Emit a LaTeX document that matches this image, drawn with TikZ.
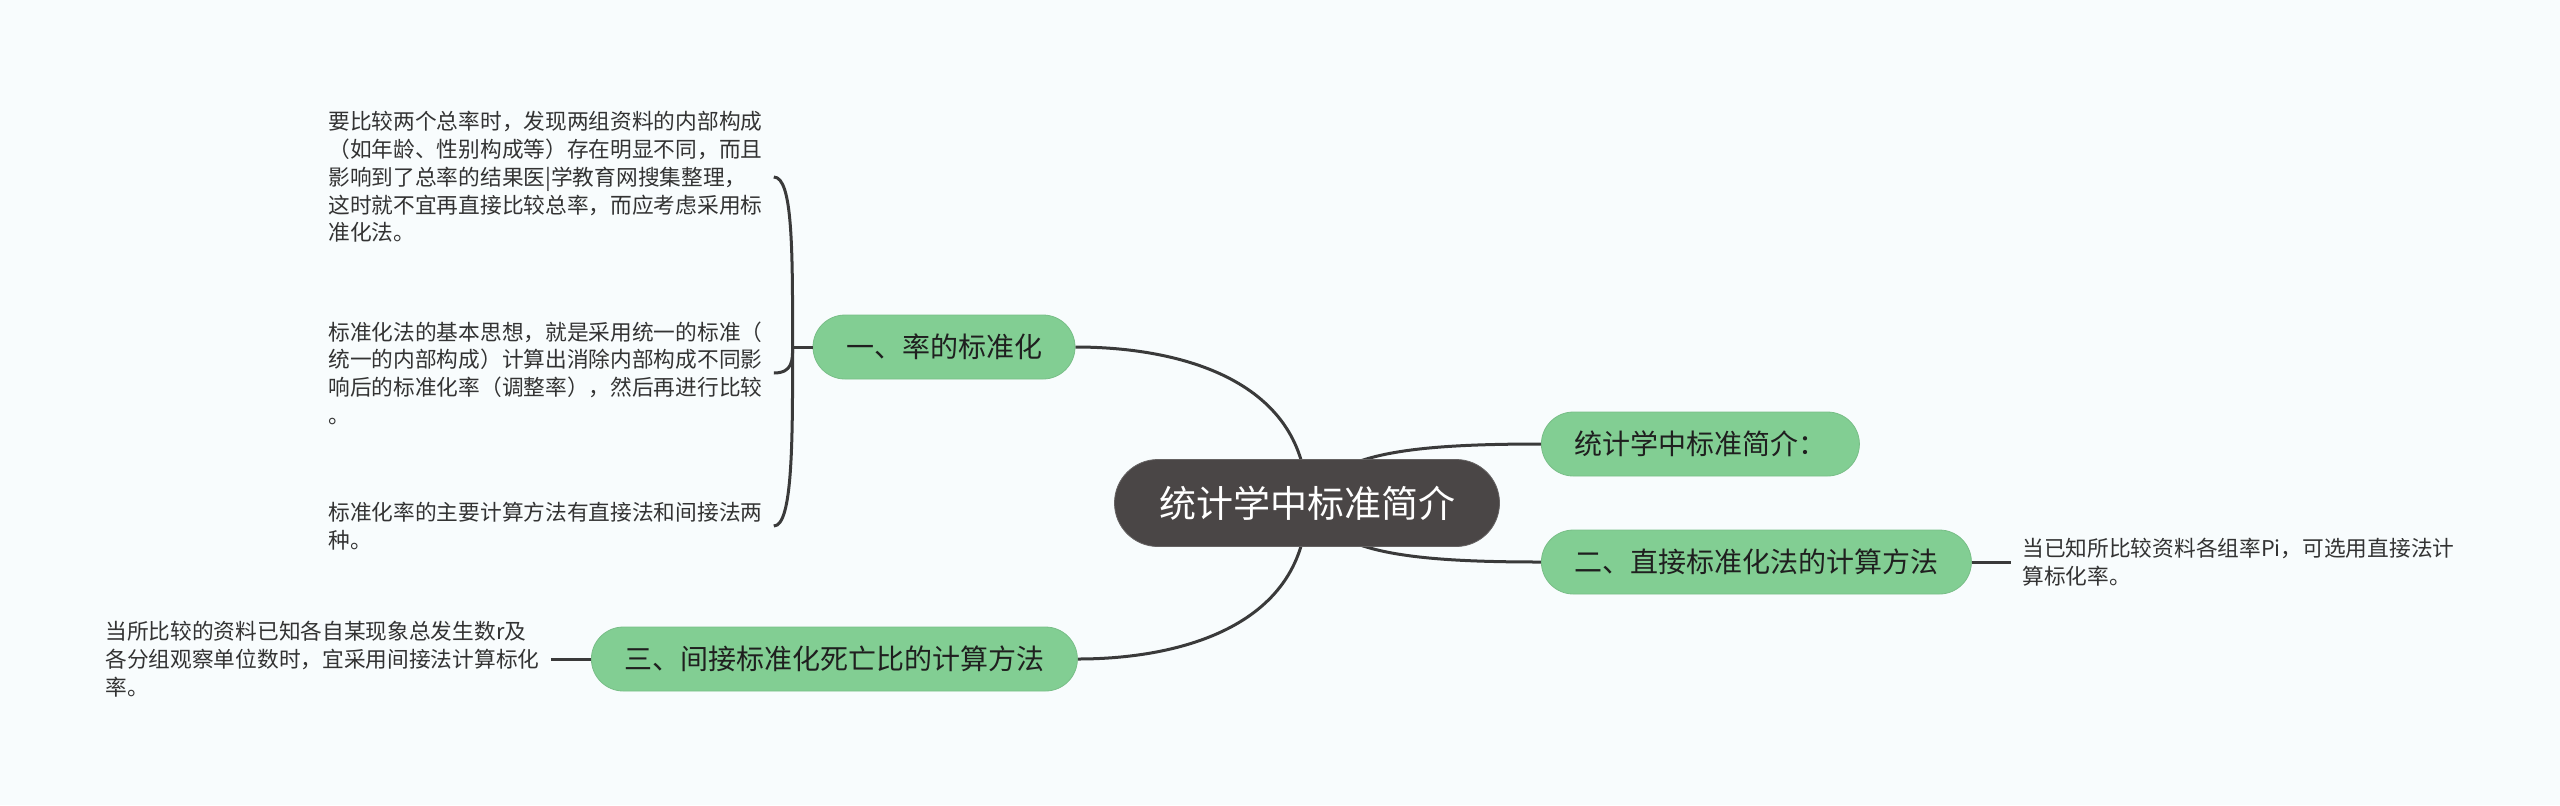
\documentclass[tikz,border=0pt]{standalone}
\usepackage{fontspec}
\setmainfont{Noto Sans CJK SC}
\usepackage{xcolor}
\usepackage{tikz}
\usetikzlibrary{positioning, backgrounds}

\definecolor{bgblue}{HTML}{F8FCFD}
\definecolor{topicgreen}{HTML}{82CE93}
\definecolor{rootgray}{HTML}{4A4646}
\definecolor{linegray}{HTML}{3A3A3A}
\definecolor{leaftext}{HTML}{333333}

\begin{document}
\begin{tikzpicture}[
    x=0.5pt, y=-0.5pt,
    root/.style={rectangle, fill=rootgray, draw=rootgray!85!white, text=white, minimum width=192.5pt, minimum height=43.5pt, rounded corners=21.7pt, font=\fontsize{18.5}{22}\selectfont},
    topic/.style={rectangle, fill=topicgreen, draw=topicgreen!92!black, text=black!88, minimum height=32pt, inner xsep=16.5pt, rounded corners=16pt, font=\fontsize{14}{17}\selectfont},
    leaf/.style={align=left, inner xsep=5.5pt, inner ysep=0pt, text=leaftext, font=\fontsize{10.85}{13.85}\selectfont},
    link/.style={draw=linegray, line width=1.5pt}
]

\useasboundingbox (0,0) rectangle (2560,805);

\node (root) [root] at (1307,503) {统计学中标准简介};
\node (n1) [topic] at (944,347) {一、率的标准化};
\node (n0) [topic, anchor=west] at (1541,444) {统计学中标准简介：};
\node (n2) [topic, anchor=west] at (1541,562) {二、直接标准化法的计算方法};
\node (n3) [topic, anchor=west] at (591,659) {三、间接标准化死亡比的计算方法};

\node (a1) [leaf, anchor=west] at (317,177) {要比较两个总率时，发现两组资料的内部构成\\（如年龄、性别构成等）存在明显不同，而且\\影响到了总率的结果医|学教育网搜集整理，\\这时就不宜再直接比较总率，而应考虑采用标\\准化法。};
\node (a2) [leaf, anchor=west] at (317,373) {标准化法的基本思想，就是采用统一的标准（\\统一的内部构成）计算出消除内部构成不同影\\响后的标准化率（调整率），然后再进行比较\\。};
\node (a3) [leaf, anchor=west] at (317,526) {标准化率的主要计算方法有直接法和间接法两\\种。};
\node (b1) [leaf, anchor=west] at (2011,562) {当已知所比较资料各组率Pi，可选用直接法计\\算标化率。};
\node (c1) [leaf, anchor=west] at (94,659) {当所比较的资料已知各自某现象总发生数r及\\各分组观察单位数时，宜采用间接法计算标化\\率。};

\coordinate (j1) at ([xshift=-10pt]n1.west);

\begin{scope}[on background layer]
\fill[bgblue] (0,0) rectangle (2560,805);
\draw[link] (root.center) .. controls (1307,380) and (1180,347) .. (n1.east);
\draw[link] (root.center) .. controls (1330,455) and (1400,444) .. (n0.west);
\draw[link] (root.center) .. controls (1330,551) and (1400,562) .. (n2.west);
\draw[link] (root.center) .. controls (1307,626) and (1180,659) .. (n3.east);
\end{scope}

\draw[link] (n1.west) -- (j1);
\draw[link] (j1) .. controls +(0,-97) and +(19,0) .. (a1.east);
\draw[link] (j1) .. controls +(0,13) and +(19,0) .. (a2.east);
\draw[link] (j1) .. controls +(0,93) and +(19,0) .. (a3.east);
\draw[link] (n2.east) -- (b1.west);
\draw[link] (c1.east) -- (n3.west);

\end{tikzpicture}
\end{document}
